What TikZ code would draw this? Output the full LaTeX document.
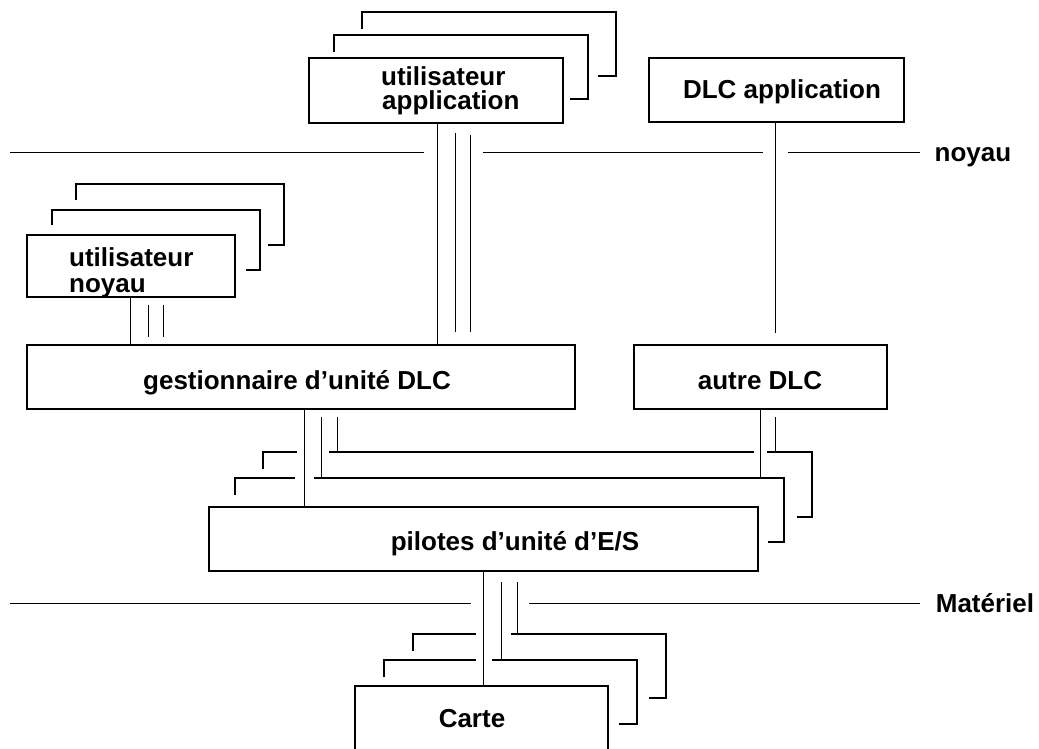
\documentclass[tikz,border=0pt]{standalone}
\usepackage{fontspec}
\setmainfont{Liberation Sans}
\begin{document}
\begin{tikzpicture}[x=1pt,y=-1pt,
  box/.style={draw,line width=2pt,rectangle,inner sep=0pt},
  layer/.style={line width=2pt},
  conn/.style={line width=1pt},
  rule/.style={line width=1pt},
  lbl/.style={inner sep=0pt,font=\fontsize{26}{23}\selectfont\bfseries}]
\useasboundingbox (0,0) rectangle (1039,749);
\clip (0,0) rectangle (1039,749);

% boxes (x from left to right, y from top to bottom)
\newcommand\mkbox[5]{\node[box,minimum width={#4-#2},minimum height={#5-#3}] (#1) at ({(#2+#4)/2},{(#3+#5)/2}) {};}
\mkbox{ua}{309}{58}{563}{123}
\mkbox{dlcapp}{649}{58}{904}{122}
\mkbox{un}{27}{235}{235}{297}
\mkbox{gest}{27}{345}{575}{409}
\mkbox{autre}{634}{345}{887}{409}
\mkbox{pil}{209}{507}{758}{571}
\mkbox{carte}{355}{686}{608}{790}

% stacked copies behind the boxes
\draw[layer] (334,52) -- (334,35) -- (588,35) -- (588,99) -- (570,99);
\draw[layer] (362,29) -- (362,12) -- (616,12) -- (616,76) -- (598,76);
\draw[layer] (52,225) -- (52,210) -- (260,210) -- (260,270) -- (246,270);
\draw[layer] (76,200) -- (76,184) -- (284,184) -- (284,245) -- (268,245);
\draw[layer] (235,495) -- (235,478) -- (294.5,478);
\draw[layer] (314,478) -- (784,478) -- (784,542) -- (768,542);
\draw[layer] (263,469) -- (263,452) -- (296.5,452);
\draw[layer] (329,452) -- (753.5,452);
\draw[layer] (767,452) -- (811.5,452) -- (811.5,517) -- (797,517);
\draw[layer] (384,677) -- (384,660) -- (476,660);
\draw[layer] (492,660) -- (637,660) -- (637,724) -- (619,724);
\draw[layer] (413,651) -- (413,634) -- (476,634);
\draw[layer] (511,634) -- (666,634) -- (666,698) -- (649,698);

% level separators
\draw[rule] (10,153) -- (424,153);
\draw[rule] (483,153) -- (763,153);
\draw[rule] (788,153) -- (920,153);
\draw[rule] (10,603) -- (471,603);
\draw[rule] (529,603) -- (920,603);

% connections
\draw[conn] (ua.south -| 437,0) -- (gest.north -| 437,0);
\draw[conn] (455,133) -- (455,332);
\draw[conn] (470,135) -- (470,332);
\draw[conn] (dlcapp.south -| 775,0) -- (775,333);
\draw[conn] (un.south -| 130,0) -- (gest.north -| 130,0);
\draw[conn] (148,305) -- (148,337);
\draw[conn] (163,305) -- (163,337);
\draw[conn] (gest.south -| 304,0) -- (pil.north -| 304,0);
\draw[conn] (321.5,417) -- (321.5,478);
\draw[conn] (337,417) -- (337,452);
\draw[conn] (autre.south -| 760,0) -- (760,478);
\draw[conn] (775,417) -- (775,452);
\draw[conn] (pil.south -| 483,0) -- (carte.north -| 483,0);
\draw[conn] (501,582) -- (501,660);
\draw[conn] (517,582) -- (517,634);

% labels
\node[lbl,anchor=base west] (ua1) at (381,86) {utilisateur};
\node[lbl,anchor=base west] (ua2) at (382,110) {application};
\node[lbl,anchor=base] (dlct) at (782,99) {DLC application};
\node[lbl,anchor=base west] (un1) at (69,266) {utilisateur};
\node[lbl,anchor=base west] (un2) at (69,292) {noyau};
\node[lbl,anchor=base] (gestt) at (297,389) {gestionnaire d’unité DLC};
\node[lbl,anchor=base] (autret) at (760,389) {autre DLC};
\node[lbl,anchor=base] (pilt) at (515,550) {pilotes d’unité d’E/S};
\node[lbl,anchor=base] (cartet) at (472,727) {Carte};
\node[lbl,anchor=base] (noyau) at (973,161) {noyau};
\node[lbl,anchor=base] (mat) at (985,612) {Matériel};
\end{tikzpicture}
\end{document}
